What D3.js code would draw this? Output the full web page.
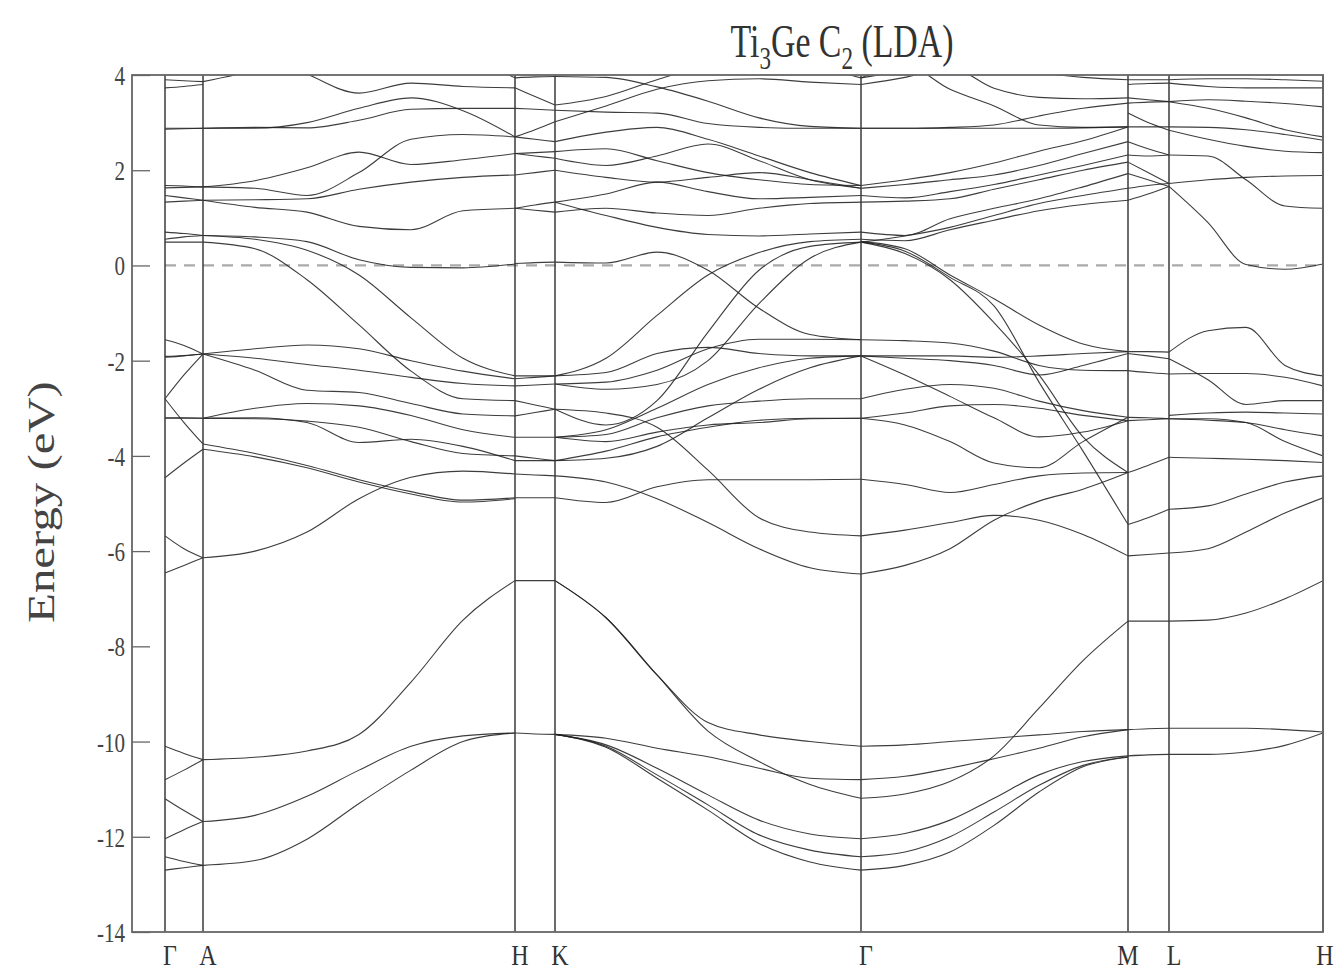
<!DOCTYPE html>
<html><head><meta charset="utf-8">
<script src="https://cdn.jsdelivr.net/npm/d3@7"></script>
<style>
html,body{margin:0;padding:0;background:#fff;}
svg{display:block;}
text{font-family:"Liberation Serif","Times New Roman",serif;}
</style></head>
<body>
<svg id="chart" width="1338" height="971"></svg>
<script>
// ---------- data ----------
const hsLabels = ["Γ","A","H","K","Γ","M","L","H"];
const hsK = [0, 38, 350, 390, 696, 963, 1004, 1158];
const yTicks = [4, 2, 0, -2, -4, -6, -8, -10, -12, -14];

const kGA = [0, 19, 38];
const bandsGA = [
  [3.9, 3.88, 3.86], [3.73, 3.76, 3.8], [2.88, 2.88, 2.88], [2.86, 2.87, 2.88],
  [1.68, 1.67, 1.65], [1.63, 1.64, 1.65], [1.47, 1.42, 1.37], [1.33, 1.35, 1.37],
  [0.7, 0.67, 0.63], [0.55, 0.6, 0.63], [0.49, 0.49, 0.49],
  [-1.56, -1.68, -1.86], [-1.91, -1.89, -1.86], [-1.93, -1.9, -1.86],
  [-2.8, -2.3, -1.86], [-2.8, -3.3, -3.75], [-3.21, -3.21, -3.21], [-3.2, -3.2, -3.21],
  [-4.46, -4.15, -3.86], [-5.68, -5.95, -6.14], [-6.46, -6.3, -6.14],
  [-10.1, -10.25, -10.38], [-10.8, -10.6, -10.38], [-11.2, -11.45, -11.68],
  [-12.04, -11.85, -11.68], [-12.42, -12.52, -12.6], [-12.7, -12.65, -12.6]
];

const kAH = [38, 90, 142, 194, 246, 298, 350];
const bandsAH = [
  [3.86, 4.1, 4.4, 4.6, 4.6, 4.4, 3.94],
  [4.6, 4.5, 4.02, 3.62, 3.83, 3.76, 3.73],
  [2.88, 2.88, 3.0, 3.3, 3.52, 3.25, 2.7],
  [2.88, 2.9, 2.89, 3.05, 3.28, 3.3, 3.3],
  [1.65, 1.78, 2.05, 2.38, 2.12, 2.22, 2.35],
  [1.65, 1.62, 1.47, 1.95, 2.65, 2.75, 2.7],
  [1.37, 1.22, 1.12, 0.82, 0.75, 1.15, 1.2],
  [1.37, 1.38, 1.4, 1.6, 1.75, 1.85, 1.9],
  [0.63, 0.6, 0.5, 0.12, -0.04, -0.05, 0.03],
  [0.63, 0.55, 0.32, -0.2, -1.1, -1.95, -2.32],
  [0.49, 0.35, -0.3, -1.25, -2.22, -2.8, -2.84],
  [-1.86, -1.75, -1.67, -1.75, -2.0, -2.22, -2.38],
  [-1.86, -2.2, -2.62, -2.67, -2.9, -3.12, -3.16],
  [-1.86, -1.95, -2.08, -2.2, -2.35, -2.48, -2.53],
  [-3.21, -3.2, -3.3, -3.72, -3.65, -3.8, -4.1],
  [-3.21, -3.0, -2.9, -2.95, -3.15, -3.45, -3.61],
  [-3.21, -3.22, -3.27, -3.4, -3.7, -3.95, -4.0],
  [-3.75, -3.95, -4.2, -4.5, -4.75, -4.93, -4.88],
  [-3.86, -4.02, -4.25, -4.55, -4.8, -4.97, -4.9],
  [-6.14, -6.0, -5.6, -4.9, -4.45, -4.32, -4.38],
  [-10.38, -10.33, -10.2, -9.85, -8.75, -7.45, -6.62],
  [-11.68, -11.55, -11.15, -10.6, -10.1, -9.88, -9.82],
  [-12.6, -12.5, -12.05, -11.3, -10.6, -10.0, -9.82]
];

const kHK = [350, 370, 390];
const bandsHK = [
  [3.94, 3.96, 3.97], [3.73, 3.55, 3.37], [3.3, 3.28, 3.26], [2.7, 2.85, 3.02],
  [2.7, 2.65, 2.6], [2.35, 2.37, 2.39], [2.35, 2.3, 2.25], [1.9, 1.95, 2.0],
  [1.2, 1.27, 1.33], [1.2, 1.16, 1.12], [0.04, 0.06, 0.07],
  [-2.32, -2.32, -2.32], [-2.38, -2.35, -2.32], [-2.53, -2.51, -2.49],
  [-2.84, -2.93, -3.02], [-3.16, -3.09, -3.02], [-3.61, -3.61, -3.61],
  [-4.0, -4.05, -4.1], [-4.1, -4.1, -4.1], [-4.38, -4.4, -4.42], [-4.88, -4.88, -4.88],
  [-6.62, -6.62, -6.62], [-9.82, -9.84, -9.85]
];

const kKG = [390, 441, 492, 543, 594, 645, 696];
const bandsKG = [
  [3.97, 3.95, 3.75, 3.45, 3.1, 2.92, 2.88],
  [3.37, 3.55, 3.9, 4.2, 4.3, 4.2, 3.94],
  [3.26, 3.22, 3.2, 2.98, 2.9, 2.88, 2.88],
  [3.02, 3.35, 3.7, 3.88, 3.92, 3.85, 3.8],
  [2.6, 2.8, 2.9, 2.65, 2.3, 1.95, 1.68],
  [2.39, 2.45, 2.2, 1.95, 1.8, 1.7, 1.68],
  [2.25, 2.1, 2.3, 2.55, 2.2, 1.8, 1.62],
  [2.0, 1.85, 1.75, 1.85, 1.95, 1.8, 1.62],
  [1.33, 1.5, 1.75, 1.55, 1.4, 1.43, 1.47],
  [1.12, 1.2, 1.1, 1.05, 1.2, 1.3, 1.33],
  [1.33, 1.05, 0.8, 0.65, 0.62, 0.66, 0.7],
  [0.07, 0.05, 0.28, -0.1, -0.9, -1.45, -1.56],
  [-2.32, -1.95, -1.05, -0.2, 0.27, 0.5, 0.55],
  [-3.02, -3.35, -2.84, -1.4, -0.1, 0.4, 0.49],
  [-2.49, -2.6, -2.5, -2.0, -0.8, 0.15, 0.49],
  [-2.32, -2.25, -1.85, -1.72, -1.85, -1.9, -1.9],
  [-2.49, -2.45, -2.2, -1.75, -1.55, -1.55, -1.56],
  [-3.02, -3.1, -3.4, -4.3, -5.3, -5.6, -5.68],
  [-3.61, -3.55, -3.2, -2.95, -2.85, -2.8, -2.8],
  [-3.61, -3.7, -3.5, -3.35, -3.3, -3.22, -3.21],
  [-4.1, -3.9, -3.6, -3.4, -3.25, -3.21, -3.21],
  [-4.1, -4.05, -3.8, -3.2, -2.6, -2.15, -1.9],
  [-3.61, -3.45, -3.0, -2.5, -2.15, -1.95, -1.9],
  [-4.88, -4.98, -4.65, -4.5, -4.5, -4.5, -4.49],
  [-4.42, -4.55, -4.9, -5.4, -5.95, -6.35, -6.48],
  [-6.62, -7.4, -8.6, -9.6, -9.86, -10.0, -10.1],
  [-6.62, -7.4, -8.6, -9.78, -10.42, -10.9, -11.19],
  [-9.85, -9.93, -10.14, -10.32, -10.56, -10.77, -10.8],
  [-9.85, -10.07, -10.56, -11.12, -11.65, -11.94, -12.04],
  [-9.85, -10.1, -10.7, -11.33, -11.96, -12.28, -12.42],
  [-9.85, -10.12, -10.77, -11.44, -12.14, -12.53, -12.7]
];

const kGM = [696, 740, 785, 829, 874, 918, 963];
const bandsGM = [
  [3.94, 4.1, 4.3, 4.2, 4.05, 3.95, 3.9],
  [3.8, 3.95, 4.15, 3.72, 3.53, 3.5, 3.52],
  [3.94, 4.2, 3.7, 3.35, 2.95, 2.9, 2.91],
  [2.88, 2.88, 2.9, 2.95, 3.14, 3.3, 3.41],
  [2.88, 2.88, 2.88, 2.88, 2.88, 2.89, 2.91],
  [1.68, 1.8, 1.95, 2.15, 2.4, 2.62, 2.91],
  [1.62, 1.7, 1.8, 1.9, 2.1, 2.35, 2.6],
  [1.47, 1.42, 1.55, 1.7, 1.9, 2.1, 2.32],
  [1.33, 1.35, 1.4, 1.6, 1.8, 2.0, 2.17],
  [0.7, 0.63, 0.98, 1.2, 1.4, 1.65, 1.93],
  [0.55, 0.52, 0.75, 0.95, 1.15, 1.28, 1.37],
  [0.49, 0.62, 0.8, 1.05, 1.3, 1.47, 1.62],
  [0.49, 0.3, -0.25, -0.85, -2.45, -3.9, -5.44],
  [0.5, 0.35, -0.2, -0.7, -1.25, -1.65, -1.81],
  [0.49, 0.25, -0.3, -1.2, -2.3, -3.6, -4.35],
  [-1.56, -1.58, -1.63, -1.8, -2.1, -2.2, -2.21],
  [-1.9, -1.9, -1.9, -1.93, -1.9, -1.85, -1.81],
  [-1.9, -1.95, -2.0, -2.1, -2.3, -2.1, -1.85],
  [-1.9, -2.3, -2.75, -3.2, -3.6, -3.5, -3.26],
  [-2.8, -2.6, -2.5, -2.58, -2.85, -3.05, -3.19],
  [-3.21, -3.1, -2.95, -2.92, -3.0, -3.15, -3.26],
  [-3.21, -3.35, -3.7, -4.15, -4.25, -3.7, -3.19],
  [-4.49, -4.6, -4.77, -4.6, -4.42, -4.36, -4.35],
  [-5.68, -5.56, -5.4, -5.25, -5.35, -5.65, -6.1],
  [-6.48, -6.3, -5.95, -5.35, -4.95, -4.7, -4.35],
  [-10.1, -10.07, -10.0, -9.93, -9.86, -9.79, -9.75],
  [-11.19, -11.1, -10.84, -10.3, -9.3, -8.3, -7.47],
  [-10.8, -10.73, -10.56, -10.36, -10.14, -9.9, -9.75],
  [-12.04, -11.93, -11.65, -11.19, -10.7, -10.42, -10.3],
  [-12.42, -12.32, -12.0, -11.48, -10.92, -10.5, -10.32],
  [-12.7, -12.6, -12.32, -11.76, -11.06, -10.53, -10.33]
];

const kML = [963, 983, 1004];
const bandsML = [
  [3.9, 3.9, 3.9], [3.8, 3.82, 3.83], [3.52, 3.48, 3.44], [3.41, 3.43, 3.44],
  [3.2, 3.0, 2.84], [2.91, 2.91, 2.91], [2.6, 2.45, 2.32], [2.32, 2.3, 2.32],
  [2.17, 1.95, 1.72], [1.93, 1.8, 1.66], [1.62, 1.68, 1.72], [1.37, 1.5, 1.66],
  [-1.81, -1.81, -1.82], [-1.85, -1.9, -1.96], [-2.21, -2.25, -2.28],
  [-3.19, -3.2, -3.22], [-3.26, -3.24, -3.22], [-4.35, -4.2, -4.03],
  [-5.44, -5.3, -5.12], [-6.1, -6.07, -6.04],
  [-7.47, -7.47, -7.47], [-9.75, -9.73, -9.72], [-10.3, -10.28, -10.27]
];

const kLH = [1004, 1043, 1081, 1120, 1158];
const bandsLH = [
  [3.9, 3.92, 3.92, 3.9, 3.87],
  [3.83, 3.76, 3.73, 3.73, 3.73],
  [3.44, 3.48, 3.45, 3.4, 3.33],
  [3.44, 3.3, 3.1, 2.85, 2.7],
  [2.91, 2.9, 2.85, 2.75, 2.63],
  [2.84, 2.65, 2.5, 2.4, 2.37],
  [2.32, 2.3, 1.8, 1.25, 1.2],
  [1.72, 1.8, 1.85, 1.88, 1.89],
  [1.66, 0.9, 0.02, -0.08, 0.03],
  [-1.82, -1.37, -1.3, -2.1, -2.32],
  [-1.96, -2.4, -2.92, -2.84, -2.84],
  [-2.28, -2.27, -2.27, -2.35, -2.53],
  [-3.22, -3.22, -3.3, -3.7, -4.0],
  [-3.15, -3.1, -3.08, -3.1, -3.12],
  [-3.22, -3.25, -3.3, -3.45, -3.58],
  [-4.03, -4.05, -4.07, -4.1, -4.14],
  [-5.12, -5.05, -4.8, -4.55, -4.42],
  [-6.04, -5.95, -5.6, -5.2, -4.88],
  [-7.47, -7.45, -7.3, -7.0, -6.62],
  [-9.72, -9.72, -9.72, -9.75, -9.8],
  [-10.27, -10.27, -10.22, -10.08, -9.82]
];

// ---------- chart ----------
const segments = [
  {k: kGA, bands: bandsGA}, {k: kAH, bands: bandsAH}, {k: kHK, bands: bandsHK},
  {k: kKG, bands: bandsKG}, {k: kGM, bands: bandsGM}, {k: kML, bands: bandsML},
  {k: kLH, bands: bandsLH}
];

const svg = d3.select("#chart");
const pL = 132, pR = 1323, pT = 75, pB = 932;
const x = d3.scaleLinear().domain([-33, 1158]).range([pL, pR]);
const y = d3.scaleLinear().domain([-14, 4]).range([pB, pT]);

svg.append("defs").append("clipPath").attr("id", "clip")
  .append("rect").attr("x", pL).attr("y", pT).attr("width", pR - pL).attr("height", pB - pT);

// Fermi level
svg.append("line")
  .attr("x1", x(0)).attr("x2", pR).attr("y1", y(0)).attr("y2", y(0))
  .attr("stroke", "#aaa").attr("stroke-width", 2.2).attr("stroke-dasharray", "11,8");

// bands
const bandG = svg.append("g").attr("clip-path", "url(#clip)");
const line = d3.line().curve(d3.curveMonotoneX);
segments.forEach(seg => {
  seg.bands.forEach(b => {
    bandG.append("path")
      .attr("d", line(b.map((e, i) => [x(seg.k[i]), y(e)])))
      .attr("fill", "none").attr("stroke", "#222").attr("stroke-width", 1.1)
      .attr("stroke-opacity", 0.88);
  });
});

// high-symmetry vertical lines
svg.append("g").selectAll("line").data(hsK).join("line")
  .attr("x1", d => x(d)).attr("x2", d => x(d)).attr("y1", pT).attr("y2", pB)
  .attr("stroke", "#3a3a3a").attr("stroke-width", 1.5);

// frame
svg.append("rect").attr("x", pL).attr("y", pT).attr("width", pR - pL).attr("height", pB - pT)
  .attr("fill", "none").attr("stroke", "#666").attr("stroke-width", 1.8);

// y axis ticks (inward) and labels
const yAxis = d3.axisRight(y).tickValues(yTicks).tickSize(18)
  .tickFormat(d => String(d));
const ya = svg.append("g").attr("transform", `translate(${pL},0)`).call(yAxis);
ya.select(".domain").remove();
ya.selectAll(".tick line").attr("stroke", "#666").attr("stroke-width", 1.3);
ya.selectAll(".tick text").attr("text-anchor", "end").attr("x", -9).attr("dy", "0.35em")
  .attr("transform", "scale(0.78,1)")
  .attr("font-size", 27).attr("fill", "#444")
  .style("font-family", "'Liberation Serif', serif");

// x labels
svg.append("g").selectAll("text").data(hsLabels).join("text")
  .attr("transform", (d, i) => `translate(${x(hsK[i]) + (i === 5 ? 0 : (i === 7 ? 2 : 5))},965) scale(0.8,1)`)
  .attr("text-anchor", "middle")
  .attr("font-size", 30).attr("fill", "#333").text(d => d);

// title
const title = svg.append("text").attr("transform", "translate(842,57) scale(0.72,1)")
  .attr("text-anchor", "middle").attr("font-size", 47).attr("fill", "#333");
title.append("tspan").text("Ti");
title.append("tspan").attr("font-size", 32).attr("dy", 12).text("3");
title.append("tspan").attr("dy", -12).text("Ge C");
title.append("tspan").attr("font-size", 32).attr("dy", 12).text("2");
title.append("tspan").attr("dy", -12).text("  (LDA)");

// y label
svg.append("text").attr("transform", "translate(54,502) rotate(-90) scale(1.32,1)")
  .attr("text-anchor", "middle").attr("font-size", 37).attr("fill", "#444")
  .text("Energy (eV)");
</script>
</body></html>
